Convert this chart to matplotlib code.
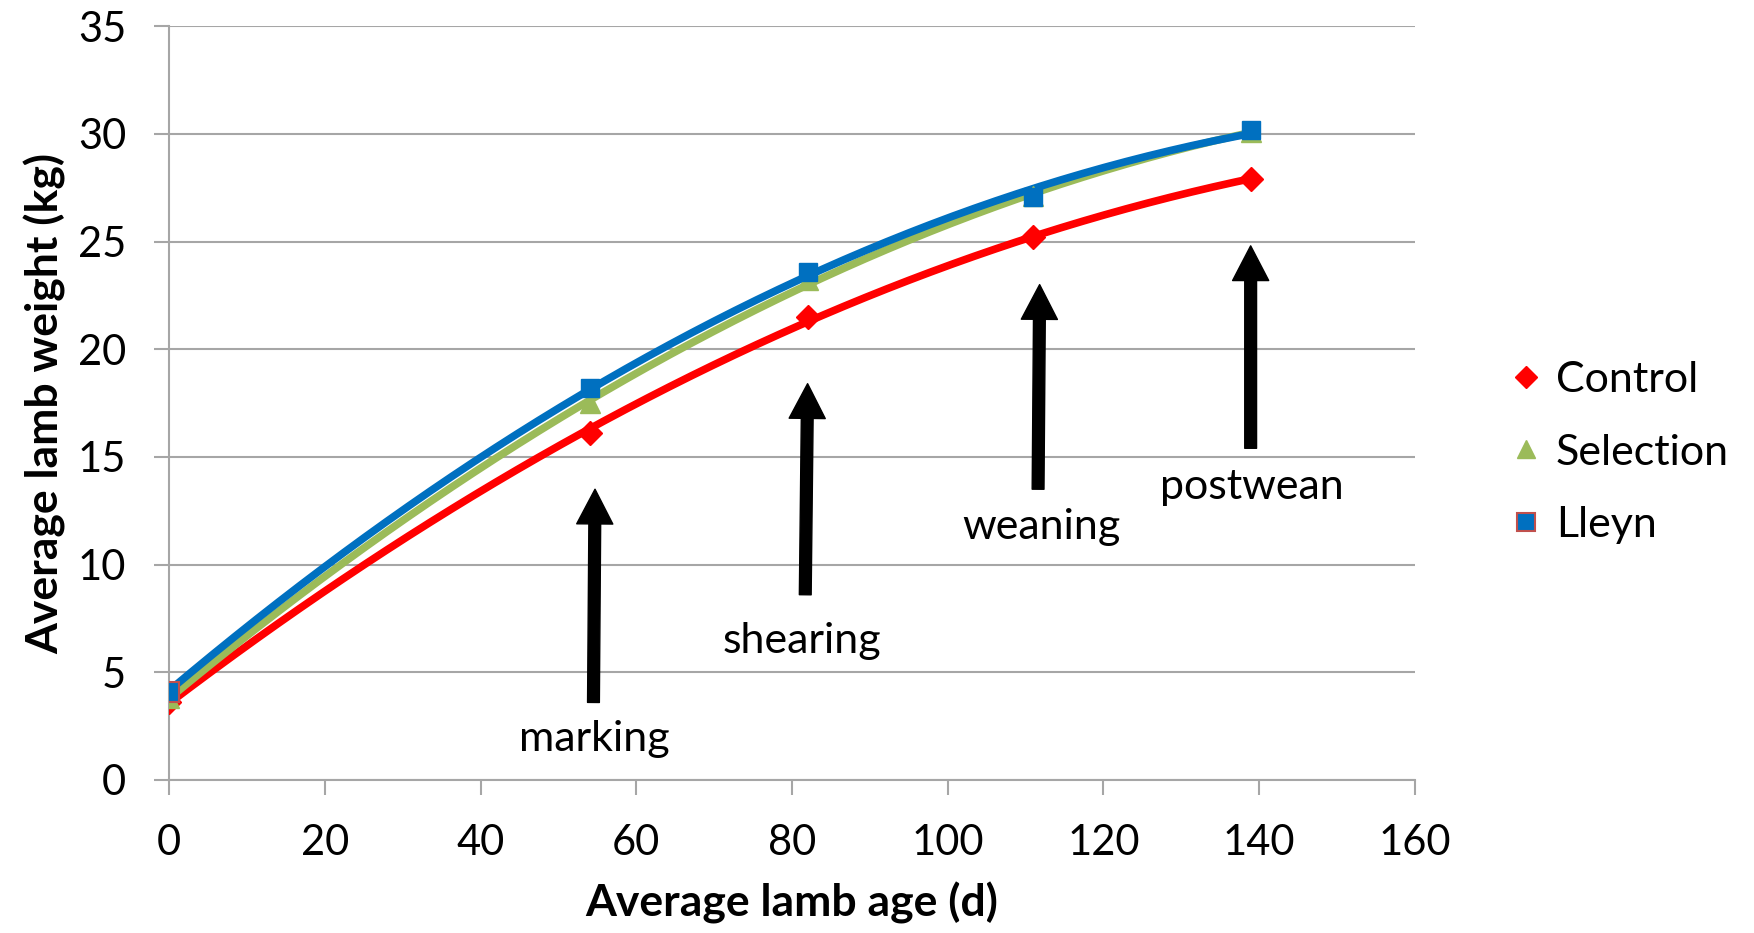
import numpy as np
import matplotlib.pyplot as plt
from matplotlib.lines import Line2D

plt.rcParams['font.family'] = ['Lato', 'DejaVu Sans']

# lamb ages (d) at each weighing
age = [0, 54, 82, 111, 139]

# average lamb weights (kg)
control = [3.6, 16.1, 21.5, 25.2, 27.9]
selection = [3.8, 17.5, 23.2, 27.1, 30.1]
lleyn = [4.1, 18.2, 23.6, 27.05, 30.2]

series_names = ['Control', 'Selection', 'Lleyn']

# event annotations
events = ['marking', 'shearing', 'weaning', 'postwean']
arrow_base = [(54.5, 3.6), (81.7, 8.6), (111.6, 13.5), (138.9, 15.4)]
arrow_tip = [(54.7, 13.5), (82.0, 18.4), (111.8, 23.0), (138.9, 24.8)]
label_pos = [(54.6, 1.9), (81.3, 6.45), (112.0, 11.75), (139.0, 13.6)]

red = '#FF0000'
green = '#9BBB59'
blue = '#0070C0'
edge_red = '#C0504D'
grid_grey = '#A6A6A6'


def trend(x, y, deg=2):
  """ Excel-style polynomial trendline over the data range. """
  c = np.polyfit(x, y, deg)
  xs = np.linspace(min(x), max(x), 200)
  return xs, np.polyval(c, xs)


fig = plt.figure(figsize=(17.54, 9.33), dpi=100)
ax = fig.add_axes([0.0964, 0.164, 0.7103, 0.808])

# trendlines
for y, col, z in [(control, red, 3), (selection, green, 4), (lleyn, blue, 5)]:
  xs, ys = trend(age, y)
  ax.plot(xs, ys, color=col, lw=5.5, zorder=z, solid_capstyle='round')

# markers
ax.plot(age, control, ls='none', marker='D', ms=12, color=red, zorder=6)
ax.plot(age, selection, ls='none', marker='^', ms=15, color=green, zorder=6)
ax.plot(age, lleyn, ls='none', marker='s', ms=13, color=blue, zorder=7)
ax.plot(age[:1], lleyn[:1], ls='none', marker='s', ms=14, color=blue,
        mec=edge_red, mew=1.5, zorder=8)

# arrows + labels
for name, b, t, p in zip(events, arrow_base, arrow_tip, label_pos):
  ax.annotate('', xy=t, xytext=b,
              arrowprops=dict(facecolor='black', edgecolor='black', width=8.5,
                              headwidth=26, headlength=25, shrink=0), zorder=9)
  ax.text(p[0], p[1], name, ha='center', va='center', fontsize=31, zorder=9)

ax.set_xlim(0, 160)
ax.set_ylim(0, 35)
ax.set_xticks(np.arange(0, 161, 20))
ax.set_yticks(np.arange(0, 36, 5))
ax.yaxis.grid(True, color=grid_grey, lw=1.5)
ax.set_axisbelow(True)

for s in ['top', 'right']:
  ax.spines[s].set_visible(False)
for s in ['left', 'bottom']:
  ax.spines[s].set_color(grid_grey)
  ax.spines[s].set_linewidth(1.5)

ax.tick_params(axis='both', labelsize=30, length=11, width=1.5, color=grid_grey)
ax.tick_params(axis='x', pad=21)
ax.tick_params(axis='y', pad=20)

ax.set_xlabel('Average lamb age (d)', fontsize=32, fontweight='bold', labelpad=14)
ax.set_ylabel('Average lamb weight (kg)', fontsize=32, fontweight='bold', labelpad=8)

handles = [
  Line2D([], [], ls='none', marker='D', ms=11, color=red),
  Line2D([], [], ls='none', marker='^', ms=13, color=green),
  Line2D([], [], ls='none', marker='s', ms=13, color=blue, mec=edge_red, mew=1.5),
]
fig.legend(handles, series_names, loc='center left', bbox_to_anchor=(0.838, 0.515),
           frameon=False, fontsize=31, handlelength=0.8, handletextpad=0.3,
           labelspacing=0.8)

plt.savefig('out.png', dpi=100)
